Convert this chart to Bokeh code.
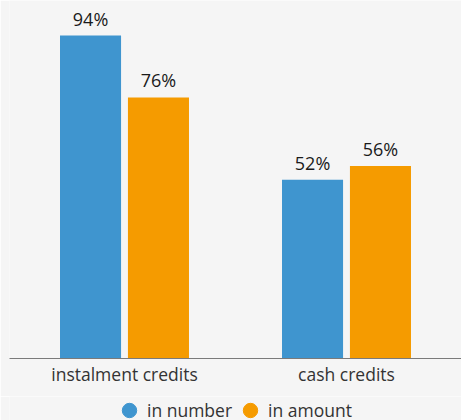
from bokeh.plotting import figure
from bokeh.layouts import column
from bokeh.models import ColumnDataSource, FactorRange, Range1d, Legend, LegendItem, LabelSet
from bokeh.transform import dodge
from bokeh.core.properties import value
from bokeh.embed import file_html
from bokeh.resources import INLINE

categories = ["instalment credits", "cash credits"]
in_number = [94, 52]
in_amount = [76, 56]
series_names = ["in number", "in amount"]

BLUE = "#3f95cf"
ORANGE = "#f59b00"
BG = "#f5f5f5"
FONT = "Open Sans"

src = ColumnDataSource(dict(
    cat=categories,
    num=in_number,
    amt=in_amount,
    num_lbl=[f"{v}%" for v in in_number],
    amt_lbl=[f"{v}%" for v in in_amount],
))

p = figure(
    x_range=FactorRange(*categories, range_padding=0.018),
    y_range=Range1d(0, 104.2),
    width=461, height=396,
    min_border_left=9, min_border_right=0, min_border_top=0, min_border_bottom=38,
    toolbar_location=None, output_backend="svg",
    background_fill_color=BG, border_fill_color=BG, outline_line_color=None,
)

p.vbar(x=dodge("cat", -0.153, range=p.x_range), top="num", width=0.275,
       source=src, color=BLUE, line_color=None)
p.vbar(x=dodge("cat", 0.153, range=p.x_range), top="amt", width=0.275,
       source=src, color=ORANGE, line_color=None)

for xoff, col, lcol in [(-0.153, "num", "num_lbl"), (0.153, "amt", "amt_lbl")]:
    ls = LabelSet(x=dodge("cat", xoff, range=p.x_range), y=col, text=lcol, source=src,
                  text_align="center", text_baseline="bottom", y_offset=5,
                  text_font=value(FONT), text_font_size="18px",
                  text_color="#1a1a1a")
    p.add_layout(ls)

p.yaxis.visible = False
p.grid.visible = False
ax = p.xaxis[0]
ax.axis_line_color = "#7a7a7a"
ax.axis_line_width = 1.2
ax.major_tick_line_color = None
ax.minor_tick_line_color = None
ax.major_tick_out = 0
ax.major_tick_in = 0
ax.major_label_text_font = FONT
ax.major_label_text_font_size = "17.5px"
ax.major_label_text_color = "#333333"
ax.major_label_standoff = 3

# legend strip
lg = figure(
    width=461, height=24, x_range=Range1d(0, 1), y_range=Range1d(0, 1),
    min_border_left=0, min_border_right=0, min_border_top=0, min_border_bottom=0,
    toolbar_location=None, output_backend="svg",
    background_fill_color=BG, border_fill_color=BG, outline_line_color=None,
)
lg.axis.visible = False
lg.grid.visible = False
s1 = lg.scatter([5], [5], marker="circle", size=15, color=BLUE)
s2 = lg.scatter([5], [5], marker="circle", size=15, color=ORANGE)
legend = Legend(
    items=[LegendItem(label=series_names[0], renderers=[s1]),
           LegendItem(label=series_names[1], renderers=[s2])],
    orientation="horizontal", location=(102, -8),
    background_fill_alpha=0, border_line_color=None,
    label_text_font=FONT, label_text_font_size="17.5px", label_text_color="#333333",
    glyph_width=36, glyph_height=36, label_standoff=0, spacing=0,
    padding=0, margin=0, label_height=16,
)
lg.add_layout(legend)

layout = column(p, lg, spacing=0)
open("out.html", "w").write(file_html(layout, INLINE))
